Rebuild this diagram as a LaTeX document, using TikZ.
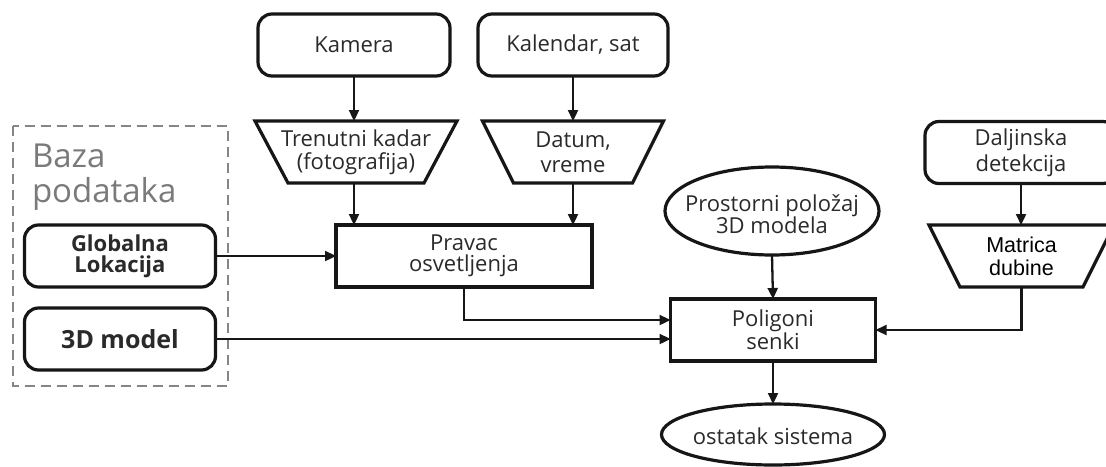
\documentclass[tikz,border=0pt]{standalone}
\usepackage{fontspec}
\setmainfont{Open Sans}
\newfontfamily\arialfont{Liberation Sans}
\usetikzlibrary{arrows.meta,calc}
\definecolor{ink}{HTML}{161616}
\definecolor{txt}{HTML}{2A2A2A}
\definecolor{dbgray}{HTML}{858585}
\definecolor{dbtext}{HTML}{7A7A7A}
\begin{document}
\begin{tikzpicture}[x=1pt,y=-1pt,
  every node/.style={font=\fontsize{22}{23}\selectfont, text=txt, align=center,
    inner sep=0pt, outer sep=0pt},
  lead/.style={font=\fontsize{22}{#1}\selectfont},
  boxline/.style={draw=ink, line width=3.2pt, line join=miter},
  rbox/.style={boxline, rounded corners=14pt, minimum width=#1, minimum height=62pt},
  sbox/.style={boxline, minimum width=#1, minimum height=62pt},
  area/.style={minimum width=#1, minimum height=62pt},
  link/.style={draw=ink, line width=2.3pt,
    -{Triangle[length=11pt,width=10pt]}},
]
\useasboundingbox (0,0) rectangle (1106,466);
\fill[white] (0,0) rectangle (1106,466);
\clip (0,0) rectangle (1106,466);

% database frame and its title
\draw[dbgray, line width=1.7pt, dash pattern=on 10pt off 6pt] (13,126) rectangle (228,386);
\node[anchor=north west, align=left, text=dbtext,
  font=\fontsize{33}{35}\selectfont] (baza) at (32,143.5) {Baza\\podataka};

% sources
\node[rbox=192pt] (kam) at (354,45) {Kamera};
\node[rbox=190pt] (kal) at (573,45) {Kalendar, sat};
\node[rbox=192pt, lead=26] (dal) at (1021,152.5) {Daljinska\\detekcija};
\node[rbox=191pt, font=\bfseries\fontsize{22}{21}\selectfont] (glob) at (120,256) {Globalna\\Lokacija};
\node[rbox=191pt, font=\bfseries\fontsize{25}{28}\selectfont] (model) at (120,339) {3D model};

% data (trapezoids)
\node[area=202pt] (tren) at (356,152) {Trenutni kadar\\(fotografija)};
\draw[boxline] (tren.north west) -- (tren.north east) -- ([xshift=-33pt]tren.south east)
  -- ([xshift=33pt]tren.south west) -- cycle;
\node[area=181pt, lead=25] (dat) at (573,152) {Datum,\\vreme};
\draw[boxline] (dat.north west) -- (dat.north east) -- ([xshift=-31pt]dat.south east)
  -- ([xshift=31pt]dat.south west) -- cycle;
\node[area=185pt, font=\arialfont\fontsize{21.5}{23}\selectfont, text=black] (mat) at (1021.5,256) {Matrica\\dubine};
\draw[boxline] (mat.north west) -- (mat.north east) -- ([xshift=-31pt]mat.south east)
  -- ([xshift=31pt]mat.south west) -- cycle;

% processing
\node[sbox=256pt, lead=21] (prav) at (464,256) {Pravac\\osvetljenja};
\node[sbox=205pt] (pol) at (773,330) {Poligoni\\senki};

% ellipses
\coordinate (prosc) at (772,211);
\node[lead=22] (prostxt) at ([yshift=-3pt]prosc) {Prostorni položaj\\3D modela};
\node[minimum width=214pt, minimum height=88pt] (pros) at (prosc) {};
\draw[boxline] (pros.center) ellipse [x radius=107pt, y radius=44pt];
\node[minimum width=223pt, minimum height=61pt] (ost) at (773,434.5) {};
\node (osttxt) at ([yshift=-1.5pt]ost.center) {ostatak sistema};
\draw[boxline] (ost.center) ellipse [x radius=111.5pt, y radius=30.5pt];

% connectors
\draw[link] (kam.south) -- (kam.south |- tren.north);
\draw[link] (kal.south) -- (kal.south |- dat.north);
\draw[link] (kam.south |- tren.south) -- (kam.south |- prav.north);
\draw[link] (kal.south |- dat.south) -- (kal.south |- prav.north);
\draw[link] (glob.east) -- (glob.east -| prav.west);
\draw[link] (prav.south) |- ([yshift=10pt]pol.west);
\draw[link] (model.east) -- (model.east -| pol.west);
\draw[link] (pros.south) -- (pol.north);
\draw[link] (dal.south) -- (dal.south |- mat.north);
\draw[link] (mat.south) |- (pol.east);
\draw[link] (pol.south) -- (ost.north);
\end{tikzpicture}
\end{document}
